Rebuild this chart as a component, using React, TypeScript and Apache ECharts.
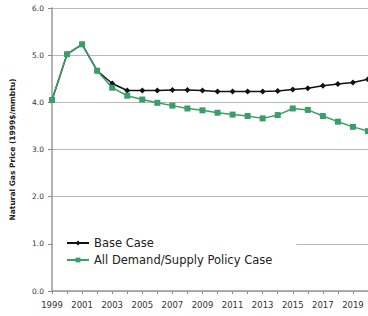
import React, { useEffect, useRef } from "react";
import * as echarts from "echarts";

const years = ["1999","2000","2001","2002","2003","2004","2005","2006","2007","2008","2009","2010","2011","2012","2013","2014","2015","2016","2017","2018","2019","2020"];
const baseCase = [4.05,5.02,5.23,4.67,4.40,4.25,4.25,4.25,4.26,4.26,4.25,4.23,4.23,4.23,4.23,4.24,4.27,4.30,4.35,4.39,4.42,4.49];
const policyCase = [4.05,5.02,5.23,4.67,4.31,4.14,4.06,3.99,3.93,3.87,3.83,3.78,3.74,3.71,3.66,3.73,3.87,3.84,3.71,3.59,3.48,3.39];
const seriesNames = ["Base Case", "All Demand/Supply Policy Case"];
const yTitle = "Natural Gas Price (1999$/mmbtu)";

const FONT = "DejaVu Sans";

export default function App() {
  const ref = useRef<HTMLDivElement>(null);
  useEffect(() => {
    if (!ref.current) return;
    const chart = echarts.init(ref.current, null, { renderer: "svg" });
    chart.setOption({
      animation: false,
      backgroundColor: "#ffffff",
      grid: { left: 51, right: 0, top: 8, bottom: 25 },
      legend: {
        orient: "vertical",
        left: 53,
        top: 229,
        padding: [8, 24, 8, 13],
        backgroundColor: "#ffffff",
        itemWidth: 22,
        itemHeight: 6,
        itemGap: 5,
        textStyle: { fontFamily: FONT, fontSize: 11.5, color: "#222" },
        data: seriesNames,
      },
      xAxis: {
        type: "category",
        data: years,
        boundaryGap: false,
        axisLine: { lineStyle: { color: "#9a9a9a", width: 1.5 } },
        axisTick: { show: true, interval: 0, length: 3, lineStyle: { color: "#8a8a8a" } },
        axisLabel: { interval: 1, fontFamily: FONT, fontSize: 8.5, color: "#333", margin: 9 },
        splitLine: { show: false },
      },
      yAxis: {
        type: "value",
        min: 0,
        max: 6,
        interval: 1,
        name: yTitle,
        nameLocation: "middle",
        nameGap: 36,
        nameTextStyle: { fontFamily: FONT, fontSize: 7.5, fontWeight: "bold", color: "#222" },
        axisLine: { show: true, lineStyle: { color: "#9a9a9a", width: 1.5 } },
        axisTick: { show: true, length: 4, lineStyle: { color: "#8a8a8a" } },
        axisLabel: { fontFamily: FONT, fontSize: 7.5, color: "#333", margin: 8, formatter: (v: number) => v.toFixed(1) },
        splitLine: { show: true, lineStyle: { color: "#b8b8b8", width: 1 } },
      },
      series: [
        {
          name: seriesNames[0],
          type: "line",
          data: baseCase,
          symbol: "diamond",
          symbolSize: 6,
          itemStyle: { color: "#111111" },
          lineStyle: { color: "#111111", width: 1.5 },
          z: 2,
        },
        {
          name: seriesNames[1],
          type: "line",
          data: policyCase,
          symbol: "rect",
          symbolSize: 6,
          itemStyle: { color: "#3a9e68" },
          lineStyle: { color: "#3a9e68", width: 1.5 },
          z: 3,
        },
      ],
    });
    return () => chart.dispose();
  }, []);
  return <div ref={ref} style={{ width: 368, height: 316, position: "absolute", left: 0, top: 0 }} />;
}
